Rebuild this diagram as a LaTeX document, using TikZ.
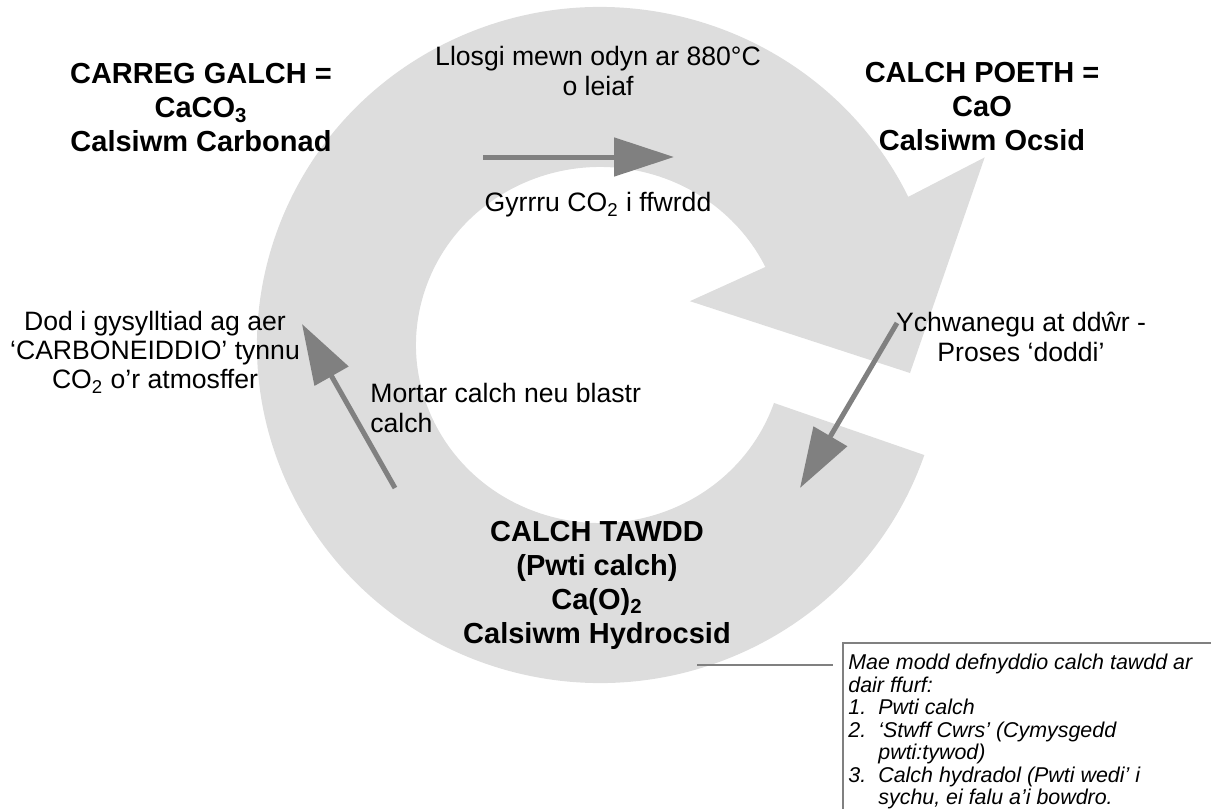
\documentclass[tikz,border=0pt]{standalone}
\usepackage{fontspec}
\setmainfont{Liberation Sans}
\usepackage{xcolor}
\usepackage{tikz}
\usetikzlibrary{arrows.meta, positioning, calc}

\definecolor{ringgray}{HTML}{DDDDDD}
\definecolor{pointgray}{HTML}{808080}
\newcommand{\numitem}[1]{\makebox[15pt][l]{#1}}

\begin{document}
\begin{tikzpicture}
	[
		x=0.5pt, y=0.5pt,
		chem/.style={font=\fontsize{14.5}{17}\selectfont\bfseries, align=center, inner sep=0pt},
		note/.style={font=\fontsize{13.3}{14.6}\selectfont, align=center, inner sep=0pt},
		flow/.style={draw=pointgray, line width=2.5pt, -{Triangle[length=30pt, width=19pt]}},
		callout/.style={draw=pointgray, line width=0.8pt}
	]
	\useasboundingbox (0,0) rectangle (1211,-809);
	\clip (0,0) rectangle (1211,-809);

	\coordinate (hub) at (600,-345);
	\fill[ringgray] ($(hub)+(26:343 and 338)$)
		arc[start angle=26, end angle=341, x radius=343, y radius=338]
		-- ($(hub)+(341:184 and 178)$)
		arc[start angle=341, end angle=26, x radius=184, y radius=178]
		-- ($(hub)+(26:100)$) -- ($(hub)+(310,-28)$) -- ($(hub)+(26:428)$) -- cycle;

	\coordinate (burnfrom) at (483,-157);
	\coordinate (burnto) at (674,-157);
	\coordinate (slakefrom) at (897,-323);
	\coordinate (slaketo) at (800,-488);
	\coordinate (setfrom) at (395,-488);
	\coordinate (setto) at (302,-324);
	\draw[flow] (burnfrom) -- (burnto);
	\draw[flow] (slakefrom) -- (slaketo);
	\draw[flow] (setfrom) -- (setto);

	\node[chem] (limestone) at (201,-108) {CARREG GALCH =\\CaCO\textsubscript{3}\\Calsiwm Carbonad};
	\node[chem] (quicklime) at (982,-107) {CALCH POETH =\\CaO\\Calsiwm Ocsid};
	\node[chem] (slaked) at (597,-585) {CALCH TAWDD\\(Pwti calch)\\Ca(O)\textsubscript{2}\\Calsiwm Hydrocsid};

	\node[note] (burn) at (598,-71) {Llosgi mewn odyn ar 880°C\\o leiaf};
	\node[note] (drive) at (598,-205) {Gyrrru CO\textsubscript{2} i ffwrdd};
	\node[note] (water) at (1021,-337) {Ychwanegu at ddŵr -\\Proses ‘doddi’};
	\node[note] (carbonate) at (155,-352) {Dod i gysylltiad ag aer\\‘CARBONEIDDIO’ tynnu\\CO\textsubscript{2} o’r atmosffer};
	\node[note, align=left, anchor=west] (mortar) at (370,-408) {Mortar calch neu blastr\\calch};

	\draw[callout] (843,-830) -- (843,-643) -- (1230,-643);
	\node[font=\fontsize{10.7}{11.25}\selectfont\itshape, align=left, anchor=north west, inner sep=0pt] (uses) at (848,-654)
		{Mae modd defnyddio calch tawdd ar\\
		dair ffurf:\\
		\numitem{1.}Pwti calch\\
		\numitem{2.}‘Stwff Cwrs’ (Cymysgedd\\
		\hspace*{15pt}pwti:tywod)\\
		\numitem{3.}Calch hydradol (Pwti wedi’ i\\
		\hspace*{15pt}sychu, ei falu a’i bowdro.};
	\coordinate (calloutfoot) at (697,-665);
	\coordinate (callouthead) at (833,-665);
	\draw[callout, line width=1pt] (calloutfoot) -- (callouthead);
\end{tikzpicture}
\end{document}
